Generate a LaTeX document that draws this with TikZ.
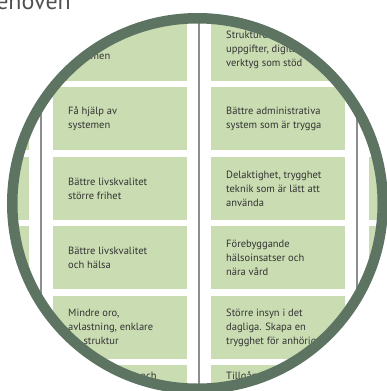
\documentclass[tikz,border=0pt]{standalone}
\usepackage{fontspec}
\setmainfont{PT Sans}
\definecolor{ringgreen}{HTML}{5E7462}
\definecolor{cellgreen}{HTML}{C9DCB2}
\definecolor{rulegrey}{HTML}{8E8E8E}
\definecolor{ink}{HTML}{333333}
\definecolor{titleink}{HTML}{505050}
\begin{document}
\begin{tikzpicture}[x=1pt,y=-1pt,
  cellbox/.style={fill=cellgreen, draw=none, inner sep=0pt,
    minimum width=134pt, minimum height=63pt, anchor=north west},
  celltext/.style={text=ink, font=\fontsize{10.5}{14}\selectfont,
    align=left, anchor=west, inner sep=0pt},
  colrule/.style={draw=rulegrey, line width=1.6pt},
  lensring/.style={draw=ringgreen, line width=10.5pt},
  titletext/.style={text=titleink, font=\fontsize{24}{28}\selectfont,
    anchor=base east, inner sep=0pt}]
\useasboundingbox (0,0) rectangle (386,391);

% heading behind the lens
\node[titletext] (heading) at (71,9.5) {Behoven};

\coordinate (lens) at (197.5,203.5);

\begin{scope}
  \clip (lens) circle (185);
  \fill[white] (lens) circle (185);

  % column rules
  \foreach \x/\n in {41/a,199/b,357/c} {
    \coordinate (rt\n) at (\x,0);
    \coordinate (rb\n) at (\x,400);
    \draw[colrule] (rt\n) -- (rb\n);
  }

  % grid of cells: columns 0..3, rows 1..6
  \foreach \c/\x in {0/-105,1/53,2/211,3/369} {
    \foreach \r/\y in {1/18,2/87,3/157,4/226,5/296,6/365} {
      \node[cellbox] (cell-\c-\r) at (\x,\y) {};
    }
  }

  % texts, first column
  \node[celltext] (t11) at ([xshift=15pt]cell-1-1.west) {Få stöd av\\systemen};
  \node[celltext] (t12) at ([xshift=15pt]cell-1-2.west) {Få hjälp av\\systemen};
  \node[celltext] (t13) at ([xshift=15pt]cell-1-3.west) {Bättre livskvalitet\\större frihet};
  \node[celltext] (t14) at ([xshift=15pt]cell-1-4.west) {Bättre livskvalitet\\och hälsa};
  \node[celltext] (t15) at ([xshift=15pt]cell-1-5.west) {Mindre oro,\\avlastning, enklare\\liv, struktur};
  \node[celltext] (t16) at ([xshift=15pt]cell-1-6.west) {Självständighet och\\trygghet i\\vardagen med\\stöd};

  % texts, second column
  \node[celltext] (t21) at ([xshift=15pt]cell-2-1.west) {Strukturerade\\uppgifter, digitala\\verktyg som stöd};
  \node[celltext] (t22) at ([xshift=15pt]cell-2-2.west) {Bättre administrativa\\system som är trygga};
  \node[celltext] (t23) at ([xshift=15pt]cell-2-3.west) {Delaktighet, trygghet\\teknik som är lätt att\\använda};
  \node[celltext] (t24) at ([xshift=15pt]cell-2-4.west) {Förebyggande\\hälsoinsatser och\\nära vård};
  \node[celltext] (t25) at ([xshift=15pt]cell-2-5.west) {Större insyn i det\\dagliga. Skapa en\\trygghet för anhöriga};
  \node[celltext] (t26) at ([xshift=15pt]cell-2-6.west) {Tillgång till\\vård och stöd\\dygnet runt\\i hemmet};
\end{scope}

% lens rim
\draw[lensring] (lens) circle (185.25);
\end{tikzpicture}
\end{document}
